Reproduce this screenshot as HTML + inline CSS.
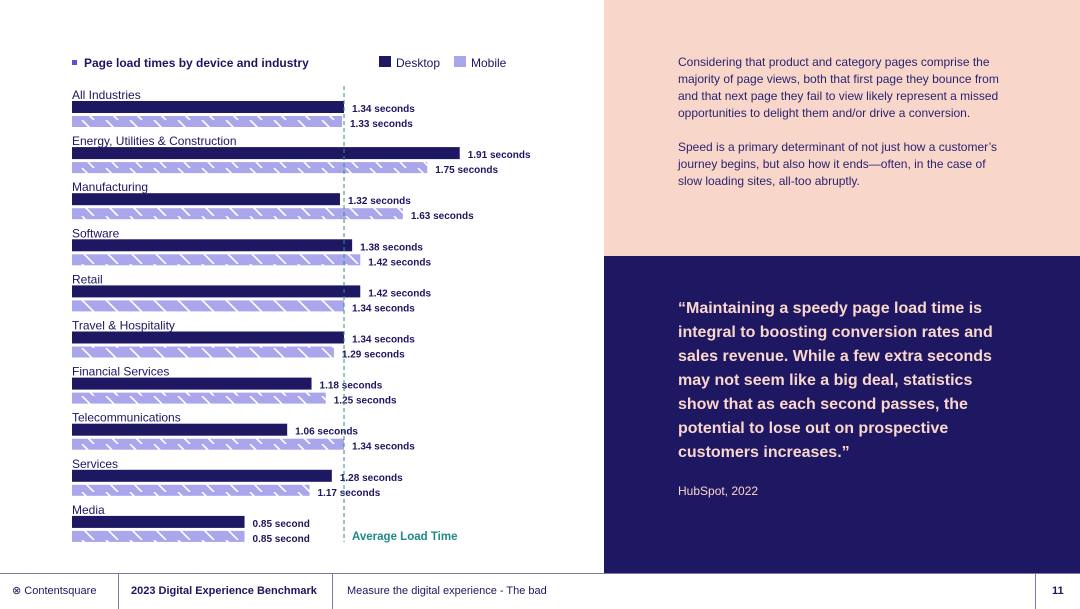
<!DOCTYPE html>
<html><head><meta charset="utf-8"><style>
body{margin:0;width:1080px;height:608px;position:relative;overflow:hidden;background:#fff;font-family:"Liberation Sans",sans-serif;color:#1c1660}
.abs{position:absolute}
.pink{left:604px;top:0;width:476px;height:256px;background:#f9d6ca}
.navy{left:604px;top:256px;width:476px;height:317px;background:#1e1761}
.ptxt{left:678px;top:54px;width:328px;font-size:12px;line-height:17px;color:#2a2470}
.quote{left:678px;top:297px;width:326px;font-size:16px;font-weight:bold;line-height:24px;color:#fad7cc}
.footer{left:0;top:573px;width:1080px;height:35px;border-top:1.5px solid #7d78a8;font-size:11px}
.ft{top:0;height:35px;line-height:35px}
</style></head><body>
<div class="abs pink"></div>
<div class="abs ptxt">Considering that product and category pages comprise the majority of page views, both that first page they bounce from and that next page they fail to view likely represent a missed opportunities to delight them and/or drive a conversion.<br><br>Speed is a primary determinant of not just how a customer’s journey begins, but also how it ends—often, in the case of slow loading sites, all-too abruptly.</div>
<div class="abs navy"></div>
<div class="abs quote">“Maintaining a speedy page load time is integral to boosting conversion rates and sales revenue. While a few extra seconds may not seem like a big deal, statistics show that as each second passes, the potential to lose out on prospective customers increases.”</div>
<div class="abs" style="left:678px;top:484px;font-size:12px;color:#fad7cc">HubSpot, 2022</div>

<svg class="abs" style="left:0;top:0" width="604" height="573">
<defs><pattern id="hatch" width="24" height="12" patternUnits="userSpaceOnUse"><rect width="24" height="12" fill="#a9a6ec"/><line x1="10" y1="0" x2="22" y2="12" stroke="#fff" stroke-width="1.6"/></pattern></defs>
<g id="g"></g>
</svg>
<div class="footer abs">
<div class="abs ft" style="left:12px">⊗ Contentsquare</div>
<div class="abs" style="left:118px;top:0;width:1px;height:35px;background:#7d78a8"></div>
<div class="abs ft" style="left:131px;font-weight:bold">2023 Digital Experience Benchmark</div>
<div class="abs" style="left:332px;top:0;width:1px;height:35px;background:#7d78a8"></div>
<div class="abs ft" style="left:347px">Measure the digital experience - The bad</div>
<div class="abs" style="left:1035px;top:0;width:1px;height:35px;background:#7d78a8"></div>
<div class="abs ft" style="left:1052px;font-weight:bold">11</div>
</div>
<script>
const categories=["All Industries","Energy, Utilities & Construction","Manufacturing","Software","Retail","Travel & Hospitality","Financial Services","Telecommunications","Services","Media"];
const desktop=[1.34,1.91,1.32,1.38,1.42,1.34,1.18,1.06,1.28,0.85];
const mobile=[1.33,1.75,1.63,1.42,1.34,1.29,1.25,1.34,1.17,0.85];
const average=1.34;
const NS="http://www.w3.org/2000/svg",g=document.getElementById('g');
const x=v=>72+v*203, rowY=i=>94+i*46.1;
function mk(t,a,txt){const e=document.createElementNS(NS,t);for(const k in a)e.setAttribute(k,a[k]);if(txt)e.textContent=txt;g.appendChild(e);return e;}
let e;
e=mk('rect',{x:72,y:60,width:5,height:5,fill:'#5a52d6'});
e=mk('text',{x:84,y:67,'font-size':12,'font-weight':'bold',fill:'#1c1660'},'Page load times by device and industry');

e=mk('rect',{x:379,y:56,width:12,height:11,fill:'#1e1761'});
e=mk('text',{x:396,y:67,'font-size':12,fill:'#1c1660'},'Desktop');

e=mk('rect',{x:454,y:56,width:12,height:11,fill:'url(#hatch)'});
e=mk('text',{x:471,y:67,'font-size':12,fill:'#1c1660'},'Mobile');

categories.forEach((c,i)=>{const y=rowY(i);
 e=mk('text',{x:72,y:y+5,'font-size':12,fill:'#1c1660'},c);
 
 e=mk('rect',{x:72,y:y+7,width:x(desktop[i])-72,height:12,fill:'#1e1761'});
 
 e=mk('rect',{x:72,y:y+22,width:x(mobile[i])-72,height:11,fill:'url(#hatch)'});
 
 const u=v=>v<1?' second':' seconds';
 e=mk('text',{x:x(desktop[i])+8,y:y+18,'font-size':10,'font-weight':'bold',fill:'#1c1660'},desktop[i].toFixed(2)+u(desktop[i]));
 
 e=mk('text',{x:x(mobile[i])+8,y:y+33,'font-size':10,'font-weight':'bold',fill:'#1c1660'},mobile[i].toFixed(2)+u(mobile[i]));
 
});
e=mk('line',{x1:x(average),x2:x(average),y1:86,y2:542,stroke:'#2a8f8a','stroke-width':1,'stroke-dasharray':'4,3'});

e=mk('text',{x:x(average)+8,y:540,'font-size':11.5,'font-weight':'bold',fill:'#1f8a88'},'Average Load Time');

</script>
</body></html>
